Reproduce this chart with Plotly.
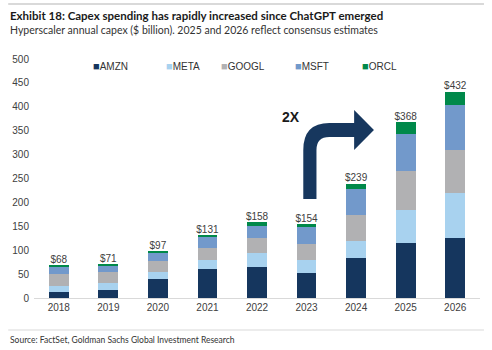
import plotly.graph_objects as go

years = ["2018", "2019", "2020", "2021", "2022", "2023", "2024", "2025", "2026"]
amzn = [13, 16, 40, 61, 64, 52, 83, 116, 125]
meta = [13, 15, 15, 19, 31, 28, 37, 68, 94]
googl = [25, 23, 22, 25, 31, 32, 53, 82, 91]
msft = [15, 14, 18, 23, 25, 36, 55, 78, 93]
orcl = [2, 3, 2, 3, 7, 6, 11, 24, 29]
series_names = ["AMZN", "META", "GOOGL", "MSFT", "ORCL"]
y_ticks = [0, 50, 100, 150, 200, 250, 300, 350, 400, 450, 500]

colors = ["#15365E", "#A8D2EF", "#B1B1B3", "#7299CB", "#00894A"]
series = [amzn, meta, googl, msft, orcl]
totals = [sum(v) for v in zip(*series)]
labels = ["$" + str(t) for t in totals]

W, H = 492, 350
L, R, T, B = 30, 12, 59, 52
PW, PH = W - L - R, H - T - B


def px(x):
    return (x - L) / PW


def py(y):
    return (H - B - y) / PH


fig = go.Figure()
for name, vals, c in zip(series_names, series, colors):
    fig.add_trace(go.Bar(x=years, y=vals, name=name, marker=dict(color=c, line=dict(width=0)),
                         showlegend=False))

fig.add_trace(go.Scatter(x=years, y=totals, text=labels, mode="text", textposition="top center",
                         textfont=dict(family="Liberation Sans", size=10, color="#404040"),
                         showlegend=False, hoverinfo="skip"))

font_main = "Lato"
ann = [
    dict(x=px(4), y=py(16), text="<b>Exhibit 18: Capex spending has rapidly increased since ChatGPT emerged</b>",
         font=dict(family=font_main, size=11.5, color="#1a1a1a")),
    dict(x=px(4), y=py(30), text="Hyperscaler annual capex ($ billion). 2025 and 2026 reflect consensus estimates",
         font=dict(family=font_main, size=10.5, color="#333333")),
    dict(x=px(4), y=py(340), text="Source: FactSet, Goldman Sachs Global Investment Research",
         font=dict(family=font_main, size=8.5, color="#333333")),
    dict(x=px(278), y=py(117), text="<b>2X</b>", font=dict(family="Liberation Sans", size=14, color="#1a1a1a")),
]
leg_x = [88, 161, 217, 291, 359]
for name, c, lx in zip(series_names, colors, leg_x):
    ann.append(dict(x=px(lx), y=py(66),
                    text='<span style="color:%s;font-size:11px">■</span>%s' % (c, name),
                    font=dict(family="Liberation Sans", size=10, color="#333333")))
for a in ann:
    a.update(xref="paper", yref="paper", xanchor="left", yanchor="middle", showarrow=False)

pts = lambda x, y: "%.5f,%.5f" % (px(x), py(y))
arrow = ("M " + pts(301.7, 199) + " L " + pts(301.7, 150) + " Q " + pts(301.7, 123) + " " + pts(328, 123)
         + " L " + pts(353, 123) + " L " + pts(353, 110) + " L " + pts(373, 130) + " L " + pts(353, 150)
         + " L " + pts(353, 137) + " L " + pts(328, 137) + " Q " + pts(315, 137) + " " + pts(315, 150)
         + " L " + pts(315, 199) + " Z")

shapes = [
    dict(type="line", xref="paper", yref="paper", x0=px(4), x1=px(484), y0=py(4), y1=py(4),
         line=dict(color="#D9D9D9", width=2)),
    dict(type="line", xref="paper", yref="paper", x0=px(4), x1=px(484), y0=py(330), y1=py(330),
         line=dict(color="#D9D9D9", width=1)),
    dict(type="path", xref="paper", yref="paper", path=arrow, fillcolor="#17375E", line=dict(width=0)),
]

fig.update_layout(
    width=W, height=H, margin=dict(l=L, r=R, t=T, b=B),
    barmode="stack", bargap=0.6,
    paper_bgcolor="white", plot_bgcolor="white",
    annotations=ann, shapes=shapes,
    xaxis=dict(showline=True, linecolor="#D9D9D9", linewidth=1, showgrid=False, ticks="",
               tickfont=dict(family="Liberation Sans", size=10, color="#404040")),
    yaxis=dict(range=[0, 500], tickvals=y_ticks, showgrid=False, zeroline=False, showline=False,
               ticks="", ticklabelstandoff=4,
               tickfont=dict(family="Liberation Sans", size=10, color="#404040")),
)

fig.write_html("out.html")
